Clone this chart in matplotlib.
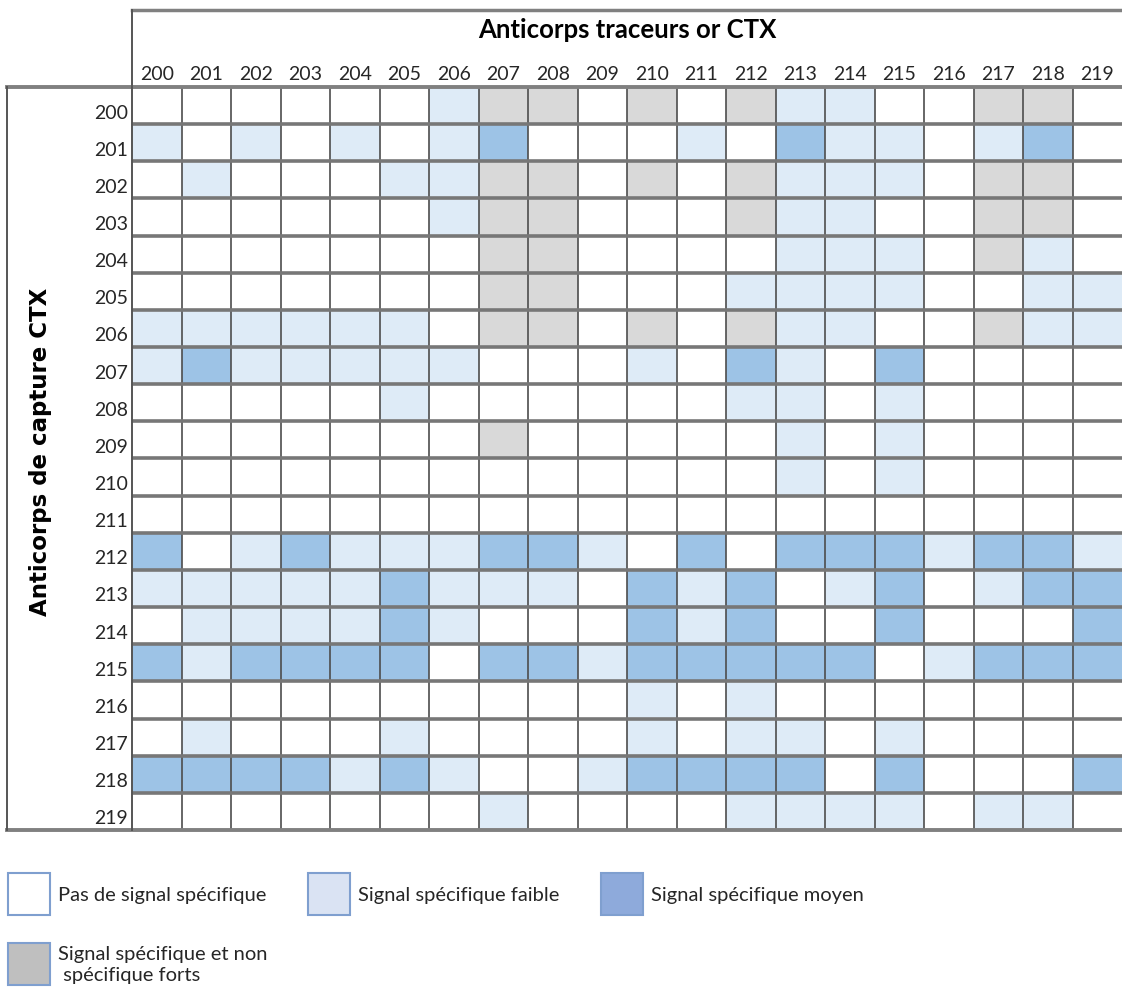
import numpy as np
import matplotlib.pyplot as plt
from matplotlib.colors import ListedColormap, BoundaryNorm
from matplotlib.lines import Line2D
from matplotlib.patches import Rectangle

# antibody ids (tracer columns, capture rows)
tracers = [str(n) for n in range(200, 220)]
captures = [str(n) for n in range(200, 220)]

# 0 = no signal, 1 = weak, 2 = medium, 3 = strong specific + non specific
signal = [
    [0, 0, 0, 0, 0, 0, 1, 3, 3, 0, 3, 0, 3, 1, 1, 0, 0, 3, 3, 0],  # 200
    [1, 0, 1, 0, 1, 0, 1, 2, 0, 0, 0, 1, 0, 2, 1, 1, 0, 1, 2, 0],  # 201
    [0, 1, 0, 0, 0, 1, 1, 3, 3, 0, 3, 0, 3, 1, 1, 1, 0, 3, 3, 0],  # 202
    [0, 0, 0, 0, 0, 0, 1, 3, 3, 0, 0, 0, 3, 1, 1, 0, 0, 3, 3, 0],  # 203
    [0, 0, 0, 0, 0, 0, 0, 3, 3, 0, 0, 0, 0, 1, 1, 1, 0, 3, 1, 0],  # 204
    [0, 0, 0, 0, 0, 0, 0, 3, 3, 0, 0, 0, 1, 1, 1, 1, 0, 0, 1, 1],  # 205
    [1, 1, 1, 1, 1, 1, 0, 3, 3, 0, 3, 0, 3, 1, 1, 0, 0, 3, 1, 1],  # 206
    [1, 2, 1, 1, 1, 1, 1, 0, 0, 0, 1, 0, 2, 1, 0, 2, 0, 0, 0, 0],  # 207
    [0, 0, 0, 0, 0, 1, 0, 0, 0, 0, 0, 0, 1, 1, 0, 1, 0, 0, 0, 0],  # 208
    [0, 0, 0, 0, 0, 0, 0, 3, 0, 0, 0, 0, 0, 1, 0, 1, 0, 0, 0, 0],  # 209
    [0, 0, 0, 0, 0, 0, 0, 0, 0, 0, 0, 0, 0, 1, 0, 1, 0, 0, 0, 0],  # 210
    [0, 0, 0, 0, 0, 0, 0, 0, 0, 0, 0, 0, 0, 0, 0, 0, 0, 0, 0, 0],  # 211
    [2, 0, 1, 2, 1, 1, 1, 2, 2, 1, 0, 2, 0, 2, 2, 2, 1, 2, 2, 1],  # 212
    [1, 1, 1, 1, 1, 2, 1, 1, 1, 0, 2, 1, 2, 0, 1, 2, 0, 1, 2, 2],  # 213
    [0, 1, 1, 1, 1, 2, 1, 0, 0, 0, 2, 1, 2, 0, 0, 2, 0, 0, 0, 2],  # 214
    [2, 1, 2, 2, 2, 2, 0, 2, 2, 1, 2, 2, 2, 2, 2, 0, 1, 2, 2, 2],  # 215
    [0, 0, 0, 0, 0, 0, 0, 0, 0, 0, 1, 0, 1, 0, 0, 0, 0, 0, 0, 0],  # 216
    [0, 1, 0, 0, 0, 1, 0, 0, 0, 0, 1, 0, 1, 1, 0, 1, 0, 0, 0, 0],  # 217
    [2, 2, 2, 2, 1, 2, 1, 0, 0, 1, 2, 2, 2, 2, 0, 2, 0, 0, 0, 2],  # 218
    [0, 0, 0, 0, 0, 0, 0, 1, 0, 0, 0, 0, 1, 1, 1, 1, 0, 1, 1, 0],  # 219
]

legend_labels = [
    'Pas de signal spécifique',
    'Signal spécifique faible',
    'Signal spécifique moyen',
    'Signal spécifique et non\n spécifique forts',
]

cell_colors = ['#ffffff', '#deebf7', '#9dc3e6', '#d9d9d9']
key_colors = ['#ffffff', '#dae3f3', '#8eaadb', '#bfbfbf']

W, H = 1122, 988


def fx(x):
    return x / W


def fy(y):
    return 1 - y / H


fig = plt.figure(figsize=(W / 100, H / 100), dpi=100)
fig.patch.set_facecolor('white')

# heatmap area
ax = fig.add_axes([fx(132), fy(830), fx(1122) - fx(132), fy(87) - fy(830)])
data = np.array(signal)
cmap = ListedColormap(cell_colors)
norm = BoundaryNorm([-0.5, 0.5, 1.5, 2.5, 3.5], cmap.N)
ax.pcolormesh(np.arange(len(tracers) + 1), np.arange(len(captures) + 1), data,
              cmap=cmap, norm=norm, edgecolors='none')
ax.set_xlim(0, len(tracers))
ax.set_ylim(len(captures), 0)

for i in range(1, len(tracers)):
    ax.axvline(i, color='#4d4d4d', lw=1.2)
for j in range(1, len(captures)):
    ax.axhline(j, color='#777777', lw=2.6)

for s in ax.spines.values():
    s.set_visible(False)

ax.xaxis.tick_top()
ax.set_xticks(np.arange(len(tracers)) + 0.5)
ax.set_xticklabels(tracers, family='Lato', fontsize=14, color='#262626')
ax.set_yticks(np.arange(len(captures)) + 0.93)
ax.set_yticklabels(captures, family='Lato', fontsize=14, color='#262626', va='bottom')
ax.tick_params(length=0, pad=3)

fig.text(fx(627), fy(30), 'Anticorps traceurs or CTX', ha='center', va='center',
         fontsize=18.5, fontweight='bold', family='Lato')
fig.text(fx(41), fy(452), 'Anticorps de capture CTX', rotation=90, ha='center', va='center',
         fontsize=16.5, fontweight='bold', family='DejaVu Sans')

# table frame
frame = [
    ((132, 1122), (10, 10), '#808080', 2.5),
    ((7, 1122), (87, 87), '#808080', 2.8),
    ((7, 1122), (830, 830), '#808080', 2.8),
    ((132, 132), (10, 830), '#555555', 1.4),
    ((7, 7), (87, 830), '#555555', 1.4),
]
for xs, ys, c, lw in frame:
    fig.add_artist(Line2D([fx(x) for x in xs], [fy(y) for y in ys], color=c, lw=lw))

# colour key
key_pos = [(8, 873), (308, 873), (601, 873), (8, 943)]
for (x0, y0), color, label in zip(key_pos, key_colors, legend_labels):
    fig.add_artist(Rectangle((fx(x0), fy(y0 + 42)), fx(42), 42 / H, facecolor=color,
                             edgecolor='#7f9fcf', lw=1.5, transform=fig.transFigure))
    fig.text(fx(x0 + 50), fy(y0 + 22), label, ha='left', va='center', fontsize=14.5,
             family='Lato', color='#262626', linespacing=1.25)

fig.savefig('out.png', dpi=100)
